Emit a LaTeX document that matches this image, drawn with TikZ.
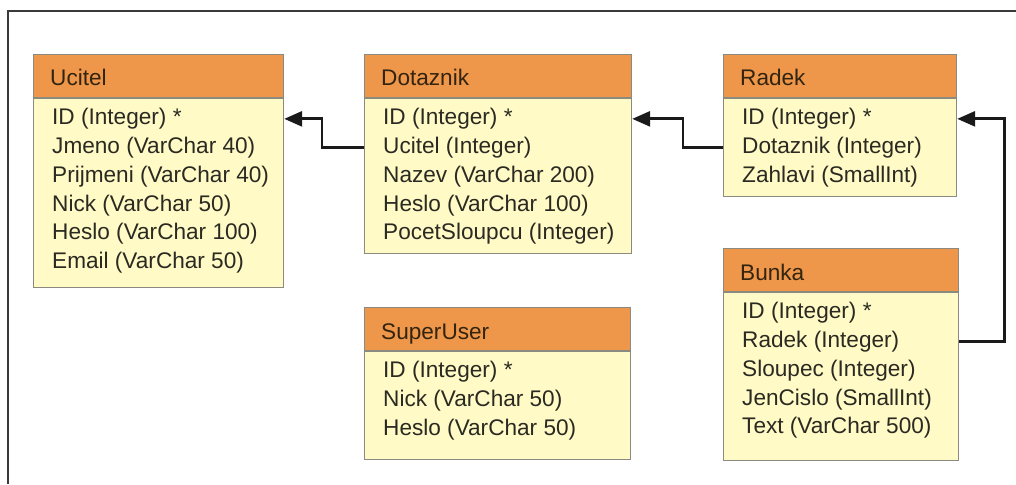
\documentclass[tikz,border=0pt]{standalone}
\usepackage{fontspec}
\setmainfont{Liberation Sans}
\usetikzlibrary{
  arrows.meta,
  positioning
}
\definecolor{Ink}{HTML}{1A1A1A}
\definecolor{FrameInk}{HTML}{3A3A3A}
\definecolor{HeadFill}{HTML}{EE974A}
\definecolor{BodyFill}{HTML}{FFFAC6}
\definecolor{BoxLine}{HTML}{8A8A80}
\definecolor{HeadInk}{HTML}{33240F}
\definecolor{FieldInk}{HTML}{2A2A22}
\newcommand{\tablefont}{\fontsize{22.6}{29}\selectfont}
\tikzset{
  % Shared look of the table boxes and their texts.
  every node/.style={font=\tablefont},
  table head/.style={
    draw=BoxLine,
    line width=1.2pt,
    fill=HeadFill,
    minimum width=#1,
    minimum height=43pt,
    inner sep=0pt,
    anchor=north west
  },
  table body/.style={
    draw=BoxLine,
    line width=1.2pt,
    fill=BodyFill,
    minimum width=#1,
    inner sep=0pt,
    anchor=north
  },
  table title/.style={
    text=HeadInk,
    inner sep=0pt,
    anchor=base west
  },
  field/.style={
    text=FieldInk,
    inner sep=0pt,
    anchor=base west
  },
  link/.style={
    -{Triangle[length=18pt,width=15pt]},
    draw=Ink,
    line width=2.8pt
  },
  frame/.style={
    draw=FrameInk,
    line width=1.6pt
  }
}

\begin{document}
\begin{tikzpicture}[x=1pt, y=-1pt]

\fill[white] (0,0) rectangle (1016,484);
\useasboundingbox (0,0) rectangle (1016,484);
\draw[frame] (8,484) |- (1016,11);

% ---------------------------------------------------------------------------
% Ucitel
% ---------------------------------------------------------------------------
\node[table head=250pt] (ucitel) at (33,54) {};
\node[table title] at ([xshift=17pt,yshift=-32pt]ucitel.north west) {Ucitel};
\node[table body=250pt, minimum height=189pt] (ucitelBody) at (ucitel.south) {};
\foreach \field [count=\i] in {
  ID (Integer) *,
  Jmeno (VarChar 40),
  Prijmeni (VarChar 40),
  Nick (VarChar 50),
  Heslo (VarChar 100),
  Email (VarChar 50)
}{
  \node[field] (ucitelF\i) at ([xshift=19pt,yshift={-26.5pt-(\i-1)*28.8pt}]ucitelBody.north west) {\field};
}

% ---------------------------------------------------------------------------
% Dotaznik
% ---------------------------------------------------------------------------
\node[table head=267pt] (dotaznik) at (364,54) {};
\node[table title] at ([xshift=17pt,yshift=-32pt]dotaznik.north west) {Dotaznik};
\node[table body=267pt, minimum height=155pt] (dotaznikBody) at (dotaznik.south) {};
\foreach \field [count=\i] in {
  ID (Integer) *,
  Ucitel (Integer),
  Nazev (VarChar 200),
  Heslo (VarChar 100),
  PocetSloupcu (Integer)
}{
  \node[field] (dotaznikF\i) at ([xshift=19pt,yshift={-26.5pt-(\i-1)*28.8pt}]dotaznikBody.north west) {\field};
}

% ---------------------------------------------------------------------------
% Radek
% ---------------------------------------------------------------------------
\node[table head=233pt] (radek) at (723,54) {};
\node[table title] at ([xshift=17pt,yshift=-32pt]radek.north west) {Radek};
\node[table body=233pt, minimum height=98pt] (radekBody) at (radek.south) {};
\foreach \field [count=\i] in {
  ID (Integer) *,
  Dotaznik (Integer),
  Zahlavi (SmallInt)
}{
  \node[field] (radekF\i) at ([xshift=19pt,yshift={-26.5pt-(\i-1)*28.8pt}]radekBody.north west) {\field};
}

% ---------------------------------------------------------------------------
% SuperUser
% ---------------------------------------------------------------------------
\node[table head=266pt] (superUser) at (364,307) {};
\node[table title] at ([xshift=17pt,yshift=-32pt]superUser.north west) {SuperUser};
\node[table body=266pt, minimum height=108pt] (superUserBody) at (superUser.south) {};
\foreach \field [count=\i] in {
  ID (Integer) *,
  Nick (VarChar 50),
  Heslo (VarChar 50)
}{
  \node[field] (superUserF\i) at ([xshift=19pt,yshift={-26.5pt-(\i-1)*28.8pt}]superUserBody.north west) {\field};
}

% ---------------------------------------------------------------------------
% Bunka
% ---------------------------------------------------------------------------
\node[table head=235pt] (bunka) at (723,248) {};
\node[table title] at ([xshift=17pt,yshift=-32pt]bunka.north west) {Bunka};
\node[table body=235pt, minimum height=168pt] (bunkaBody) at (bunka.south) {};
\foreach \field [count=\i] in {
  ID (Integer) *,
  Radek (Integer),
  Sloupec (Integer),
  JenCislo (SmallInt),
  Text (VarChar 500)
}{
  \node[field] (bunkaF\i) at ([xshift=19pt,yshift={-26.5pt-(\i-1)*28.8pt}]bunkaBody.north west) {\field};
}

% ---------------------------------------------------------------------------
% Foreign keys
% ---------------------------------------------------------------------------
\draw[link] (dotaznikF2 -| dotaznikBody.west) -- ++(-42pt,0) |- (ucitelF1 -| ucitelBody.east);
\draw[link] (radekF2 -| radekBody.west) -- ++(-40pt,0) |- (dotaznikF1 -| dotaznikBody.east);
\draw[link] (bunkaF2 -| bunkaBody.east) -- ++(45pt,0) |- (radekF1 -| radekBody.east);

\end{tikzpicture}
\end{document}
